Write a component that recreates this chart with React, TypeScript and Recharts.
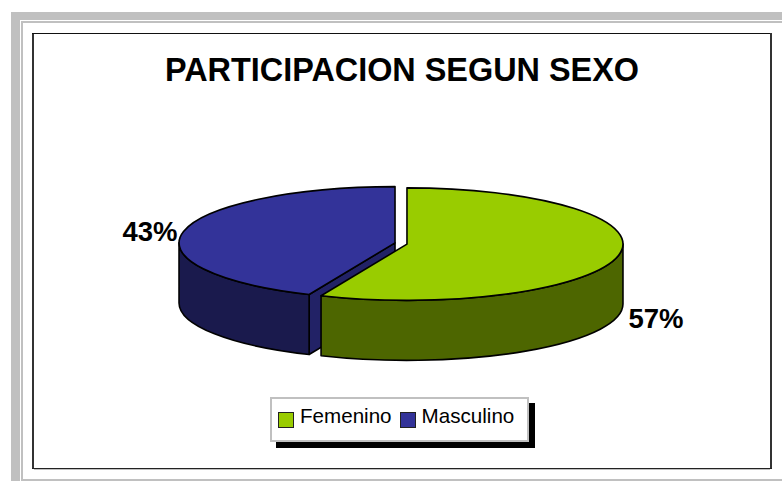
import { PieChart, Pie, Legend } from 'recharts'

const categories = ['Femenino', 'Masculino']
const values = [56.51, 43.49]
const topColors = ['#99cc00', '#333399']
const wallColors = ['#4d6600', '#1a1a4d']
const faceColors = ['#4d6600', '#222266']

const FONT = '"Liberation Sans", Arial, sans-serif'
const Y_SCALE = 0.2605
const DEPTH = 60
const EXPLODE = 6.1

// drawn back to front, so the blue slice goes first and the green one covers its cut face
const pieData = categories
  .map((name, i) => ({ name, value: values[i], fill: topColors[i], wall: wallColors[i], face: faceColors[i] }))
  .reverse()

const rad = (a: number) => (a * Math.PI) / 180

function explodedCenter(cx: number, cy: number, midAngle: number) {
  return {
    x: cx + EXPLODE * Math.cos(rad(midAngle)),
    y: cy - 0.5 * EXPLODE * Math.sin(rad(midAngle)),
  }
}

function Slice3D(props: any) {
  const { cx, cy, outerRadius: rx, startAngle, endAngle, fill, payload } = props
  const ry = rx * Y_SCALE
  const c = explodedCenter(cx, cy, (startAngle + endAngle) / 2)
  const pt = (a: number, dy = 0) => ({
    x: c.x + rx * Math.cos(rad(a)),
    y: c.y - ry * Math.sin(rad(a)) + dy,
  })
  const edge = { stroke: '#000', strokeWidth: 1.6, strokeLinejoin: 'round' as const }

  const walls = []
  for (let k = -2; k <= 1; k++) {
    const a = Math.min(startAngle, 360 * k)
    const b = Math.max(endAngle, -180 + 360 * k)
    if (a > b) {
      const p1 = pt(a)
      const p2 = pt(b)
      const p3 = pt(b, DEPTH)
      const p4 = pt(a, DEPTH)
      walls.push(
        <path
          key={k}
          d={`M${p1.x},${p1.y} A${rx},${ry} 0 0 1 ${p2.x},${p2.y} L${p3.x},${p3.y} A${rx},${ry} 0 0 0 ${p4.x},${p4.y} Z`}
          fill={payload.wall}
          {...edge}
        />
      )
    }
  }

  const faces = []
  const startVisible = Math.sin(rad(startAngle + 90)) < -1e-6
  const endVisible = Math.sin(rad(endAngle - 90)) < -1e-6
  for (const a of [startVisible ? startAngle : null, endVisible ? endAngle : null]) {
    if (a === null) continue
    const p = pt(a)
    const q = pt(a, DEPTH)
    faces.push(
      <path
        key={a}
        d={`M${c.x},${c.y} L${p.x},${p.y} L${q.x},${q.y} L${c.x},${c.y + DEPTH} Z`}
        fill={payload.face}
        {...edge}
      />
    )
  }

  const s = pt(startAngle)
  const e = pt(endAngle)
  const large = Math.abs(endAngle - startAngle) > 180 ? 1 : 0
  return (
    <g>
      {faces}
      {walls}
      <path d={`M${c.x},${c.y} L${s.x},${s.y} A${rx},${ry} 0 ${large} 1 ${e.x},${e.y} Z`} fill={fill} {...edge} />
    </g>
  )
}

function renderLabel(props: any) {
  const { cx, cy, outerRadius: rx, midAngle, percent } = props
  const c = explodedCenter(cx, cy, midAngle)
  const cos = Math.cos(rad(midAngle))
  const sin = Math.sin(rad(midAngle))
  const right = cos > 0
  const x = c.x + rx * cos + (right ? 10 : -6)
  const y = c.y - rx * Y_SCALE * sin + (sin < 0 ? DEPTH + 3 : 0)
  return (
    <text
      x={x}
      y={y}
      textAnchor={right ? 'start' : 'end'}
      dominantBaseline="central"
      fontFamily={FONT}
      fontWeight="bold"
      fontSize={27.5}
      fill="#000"
    >
      {Math.round(percent * 100)}%
    </text>
  )
}

function LegendBox() {
  return (
    <div
      style={{
        boxSizing: 'border-box',
        width: 259,
        height: 45,
        background: '#fff',
        border: '2px solid #c0c0c0',
        boxShadow: '6px 6px 0 #000',
        display: 'flex',
        alignItems: 'center',
        paddingLeft: 6,
        fontFamily: FONT,
        fontSize: 20.6,
        color: '#000',
      }}
    >
      {categories.map((name, i) => (
        <span key={name} style={{ display: 'flex', alignItems: 'center', marginRight: 8 }}>
          <span
            style={{
              boxSizing: 'border-box',
              width: 16,
              height: 16,
              marginRight: 6,
              background: topColors[i],
              border: '1.5px solid #222',
            }}
          />
          <span style={{ position: 'relative', top: -4 }}>{name}</span>
        </span>
      ))}
    </div>
  )
}

const band = (left: number, top: number, width: number, height: number, background: string) => (
  <div style={{ position: 'absolute', left, top, width, height, background }} />
)

export default function App() {
  return (
    <div style={{ position: 'absolute', left: 0, top: 0, width: 782, height: 481, background: '#fff', overflow: 'hidden' }}>
      {band(11, 12, 771, 8, '#c0c0c0')}
      {band(11, 12, 9, 469, '#c0c0c0')}
      {band(21, 21, 761, 2, '#c0c0c0')}
      {band(21, 21, 2, 460, '#c0c0c0')}
      {band(21, 479, 761, 2, '#c0c0c0')}
      {band(32, 33, 2, 436, '#333')}
      {band(32, 33, 740, 1, '#111')}
      {band(770, 33, 2, 436, '#333')}
      {band(32, 468, 740, 1, '#222')}
      {band(34, 469, 736, 1, '#c0c0c0')}
      <div
        style={{
          position: 'absolute',
          left: 32,
          width: 740,
          top: 48,
          textAlign: 'center',
          fontFamily: FONT,
          fontWeight: 'bold',
          fontSize: 32.4,
          lineHeight: '44px',
          color: '#000',
        }}
      >
        PARTICIPACION SEGUN SEXO
      </div>
      <div style={{ position: 'absolute', left: 0, top: 0 }}>
        <PieChart width={782} height={481} margin={{ top: 0, right: 0, bottom: 0, left: 0 }}>
          <Pie
            data={pieData}
            dataKey="value"
            nameKey="name"
            cx={401}
            cy={243.5}
            innerRadius={0}
            outerRadius={216}
            startAngle={90 - (values[0] / (values[0] + values[1])) * 360}
            endAngle={90 - (values[0] / (values[0] + values[1])) * 360 - 360}
            shape={Slice3D}
            label={renderLabel}
            labelLine={false}
            isAnimationActive={false}
          />
          <Legend content={LegendBox} wrapperStyle={{ left: 270, top: 397, width: 265, height: 50, bottom: 'auto' }} />
        </PieChart>
      </div>
    </div>
  )
}
